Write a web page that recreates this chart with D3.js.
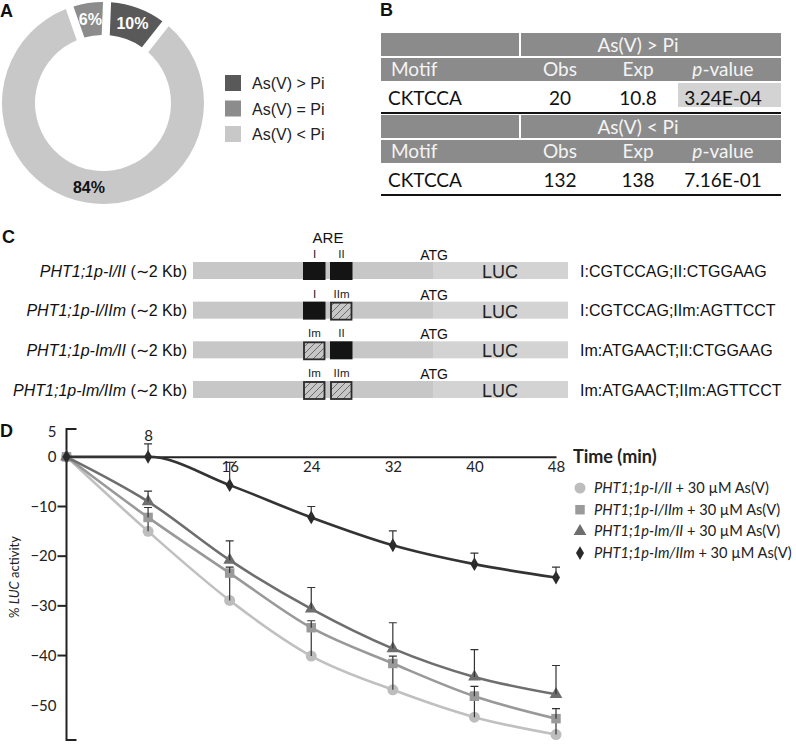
<!DOCTYPE html>
<html><head><meta charset="utf-8">
<script src="https://cdn.jsdelivr.net/npm/d3@7"></script>
<style>body{margin:0;background:#fff} svg{display:block}</style>
</head><body>
<svg id="c" width="796" height="744"></svg>
<script>
// ---------- data ----------
const pieLabels = ["As(V) > Pi", "As(V) = Pi", "As(V) < Pi"];
const pieValues = [10, 6, 84];
const pieColors = ["#595959", "#8c8c8c", "#c8c8c8"];
const pieOrder = [0, 2, 1]; // clockwise drawing order from the top

const tableGroups = ["As(V) > Pi", "As(V) < Pi"];
const tableHeader = ["Motif", "Obs", "Exp", "p-value"];
const tableMotifs = ["CKTCCA", "CKTCCA"];
const tableObs = ["20", "132"];
const tableExp = ["10.8", "138"];
const tablePvals = ["3.24E-04", "7.16E-01"];

const constructs = ["PHT1;1p-I/II", "PHT1;1p-I/IIm", "PHT1;1p-Im/II", "PHT1;1p-Im/IIm"];
const siteI = ["I", "I", "Im", "Im"];
const siteII = ["II", "IIm", "II", "IIm"];
const sequences = ["I:CGTCCAG;II:CTGGAAG", "I:CGTCCAG;IIm:AGTTCCT", "Im:ATGAACT;II:CTGGAAG", "Im:ATGAACT;IIm:AGTTCCT"];

const times = [0, 8, 16, 24, 32, 40, 48];
const seriesNames = ["PHT1;1p-I/II", "PHT1;1p-I/IIm", "PHT1;1p-Im/II", "PHT1;1p-Im/IIm"];
const circleVals = [0, -15.0, -28.9, -40.1, -46.9, -52.4, -55.9];
const circleErr = [0, 3, 5.5, 5, 5, 5, 3.5];
const squareVals = [0, -12.2, -23.4, -34.4, -41.6, -48.2, -52.7];
const squareErr = [0, 2, 1.2, 1.4, 1.5, 2, 2];
const triangleVals = [0, -9.0, -20.8, -30.6, -38.6, -44.3, -47.8];
const triangleErr = [0, 2.1, 3.9, 4.3, 5.2, 5.5, 5.8];
const diamondVals = [0, 0, -5.7, -12.2, -17.8, -21.6, -24.3];
const diamondErr = [0, 2.6, 4.6, 2.2, 2.9, 2.2, 2.1];
const yTicks = [5, 0, -10, -20, -30, -40, -50];
const xTicks = [8, 16, 24, 32, 40, 48];

const svg = d3.select("#c");
const ARIAL = "'Liberation Sans', Arial, sans-serif";
const CAL = "Lato, sans-serif";

// panel letters
[["A", 0, 17], ["B", 380, 16], ["C", 2, 243], ["D", 0, 437]].forEach(([t, x, y]) =>
  svg.append("text").attr("x", x).attr("y", y).text(t)
    .attr("font-family", ARIAL).attr("font-weight", "bold").attr("font-size", 18).attr("fill", "#111"));

// ---------- Panel A : donut ----------
{
  const g = svg.append("g").attr("transform", "translate(103,103)");
  const off = 2.3 * Math.PI / 180;
  const pie = d3.pie().sort(null).value(i => pieValues[i]).startAngle(off).endAngle(off + 2 * Math.PI);
  const arcs = pie(pieOrder);
  const arc = d3.arc().innerRadius(68).outerRadius(101).padAngle(0.08).padRadius(101);
  g.selectAll("path").data(arcs).join("path").attr("d", arc).attr("fill", d => pieColors[d.data]);
  const lab = d3.arc().innerRadius(85).outerRadius(85);
  g.selectAll("text.pl").data(arcs).join("text").attr("class", "pl")
    .attr("transform", d => `translate(${lab.centroid(d)})`)
    .attr("text-anchor", "middle").attr("dy", "0.36em")
    .attr("font-family", ARIAL).attr("font-weight", "bold").attr("font-size", 16)
    .attr("fill", d => d.data === 2 ? "#111" : "#fff")
    .text(d => pieValues[d.data] + "%");
  const lg = svg.append("g");
  pieLabels.forEach((l, i) => {
    lg.append("rect").attr("x", 225).attr("y", 75 + i * 25.5).attr("width", 16).attr("height", 16).attr("fill", pieColors[i]);
    lg.append("text").attr("x", 252).attr("y", 89 + i * 25.5).text(l)
      .attr("font-family", ARIAL).attr("font-size", 16).attr("fill", "#222");
  });
}

// ---------- Panel B : table ----------
{
  const g = svg.append("g");
  const x0 = 381, x1 = 781, xDiv = 519;
  const colX = [388, 560, 638, 723];
  const hdr = "#8b8b8b";
  const blocks = [33, 115];
  const fs = 19;
  blocks.forEach((top, b) => {
    g.append("rect").attr("x", x0).attr("y", top).attr("width", x1 - x0).attr("height", 23).attr("fill", hdr);
    g.append("rect").attr("x", xDiv).attr("y", top).attr("width", 2).attr("height", 23).attr("fill", "#fff");
    g.append("text").attr("x", colX[2]).attr("y", top + 19).attr("text-anchor", "middle")
      .text(tableGroups[b]).attr("font-family", CAL).attr("font-size", fs).attr("fill", "#f4f4f4");
    g.append("rect").attr("x", x0).attr("y", top + 25).attr("width", x1 - x0).attr("height", 23).attr("fill", hdr);
    tableHeader.forEach((h, j) => {
      const t = g.append("text").attr("x", j === 0 ? 391 : colX[j]).attr("y", top + 43)
        .attr("text-anchor", j === 0 ? "start" : "middle")
        .attr("font-family", CAL).attr("font-size", fs).attr("fill", "#f4f4f4");
      if (h === "p-value") {
        t.append("tspan").attr("font-style", "italic").text("p");
        t.append("tspan").text("-value");
      } else t.text(h);
    });
    const rowTop = top + 48;
    if (b === 0) g.append("rect").attr("x", 678).attr("y", rowTop + 2).attr("width", x1 - 678).attr("height", 24).attr("fill", "#d3d3d3");
    const vals = [tableMotifs[b], tableObs[b], tableExp[b], tablePvals[b]];
    vals.forEach((v, j) => g.append("text").attr("x", colX[j]).attr("y", rowTop + 24)
      .attr("text-anchor", j === 0 ? "start" : "middle").text(v)
      .attr("font-family", CAL).attr("font-size", fs).attr("fill", "#111"));
  });
  g.append("rect").attr("x", x0).attr("y", 112).attr("width", x1 - x0).attr("height", 2).attr("fill", "#111");
  g.append("rect").attr("x", x0).attr("y", 194).attr("width", x1 - x0).attr("height", 2).attr("fill", "#111");
}

// ---------- Panel C : constructs ----------
{
  const g = svg.append("g");
  const defs = svg.append("defs");
  const pat = defs.append("pattern").attr("id", "hatch").attr("patternUnits", "userSpaceOnUse")
    .attr("width", 7).attr("height", 7);
  pat.append("rect").attr("width", 7).attr("height", 7).attr("fill", "#c6c6c6");
  pat.append("path").attr("d", "M-1,1 l2,-2 M0,7 l7,-7 M6,8 l2,-2").attr("stroke", "#555").attr("stroke-width", 0.8);

  const row = d3.scalePoint().domain(constructs).range([270.5, 389.5]);
  const bx = d3.scaleLinear().domain([0, 1]).range([193, 568]);
  const bh = 17;
  g.append("text").attr("x", 328).attr("y", 243).attr("text-anchor", "middle").text("ARE")
    .attr("font-family", ARIAL).attr("font-size", 15).attr("fill", "#111");
  constructs.forEach((c, i) => {
    const cy = row(c);
    const top = cy - bh / 2;
    g.append("rect").attr("x", bx(0)).attr("y", top).attr("width", bx(0.64) - bx(0)).attr("height", bh).attr("fill", "#c7c7c7");
    g.append("rect").attr("x", bx(0.64)).attr("y", top).attr("width", bx(1) - bx(0.64)).attr("height", bh).attr("fill", "#d3d3d3");
    const boxes = [[siteI[i], 303], [siteII[i], 330]];
    boxes.forEach(([lab, x]) => {
      const mut = lab.endsWith("m");
      g.append("rect").attr("x", x + (mut ? 1 : 0)).attr("y", top + (mut ? 1 : 0))
        .attr("width", mut ? 20.5 : 22.5).attr("height", mut ? bh : bh + 1)
        .attr("fill", mut ? "url(#hatch)" : "#141414")
        .attr("stroke", mut ? "#2a2a2a" : "none").attr("stroke-width", mut ? 1.8 : 0);
      g.append("text").attr("x", x + 11.5).attr("y", top - 4).attr("text-anchor", "middle").text(lab)
        .attr("font-family", ARIAL).attr("font-size", 11.5).attr("fill", "#222");
    });
    g.append("text").attr("x", 434).attr("y", top - 2).attr("text-anchor", "middle").text("ATG")
      .attr("font-family", ARIAL).attr("font-size", 14).attr("fill", "#111");
    g.append("text").attr("x", 500).attr("y", top + 16).attr("text-anchor", "middle").text("LUC")
      .attr("font-family", ARIAL).attr("font-size", 18).attr("fill", "#222");
    const t = g.append("text").attr("x", 187).attr("y", cy + 6).attr("text-anchor", "end")
      .attr("font-family", ARIAL).attr("font-size", 16).attr("fill", "#111");
    t.append("tspan").attr("font-style", "italic").text(c);
    t.append("tspan").text(" (\u223C2 Kb)");
    g.append("text").attr("x", 580).attr("y", cy + 6).text(sequences[i])
      .attr("font-family", ARIAL).attr("font-size", 16).attr("fill", "#111");
  });
}

// ---------- Panel D : time course ----------
{
  const g = svg.append("g");
  const x = d3.scaleLinear().domain([0, 48]).range([66.5, 556]);
  const y = d3.scaleLinear().domain([-57, 5.6]).range([740, 429]);
  const FD = CAL;

  const ya = g.append("g").attr("transform", `translate(${x(0)},0)`)
    .call(d3.axisLeft(y).tickValues(yTicks).tickSize(0).tickPadding(10).tickFormat(d3.format("d")));
  ya.select(".domain").remove();
  ya.selectAll("text").attr("font-family", FD).attr("font-size", 15).attr("fill", "#222");
  g.append("path").attr("d", `M${x(0) + 10},${y(5.6)}H${x(0)}V${y(-57)}H${x(0) + 10}`)
    .attr("fill", "none").attr("stroke", "#222").attr("stroke-width", 2);
  [-10, -20, -30, -40].forEach(v => g.append("line").attr("x1", x(0) - 9).attr("x2", x(0))
    .attr("y1", y(v)).attr("y2", y(v)).attr("stroke", "#222").attr("stroke-width", 2));

  const xa = g.append("g").attr("transform", `translate(0,${y(0)})`)
    .call(d3.axisBottom(x).tickValues(xTicks).tickSize(0).tickPadding(5));
  xa.select(".domain").attr("stroke", "#222").attr("stroke-width", 2);
  xa.selectAll("text").attr("font-family", FD).attr("font-size", 15).attr("fill", "#222")
    .attr("dy", "0.71em");
  xa.selectAll(".tick").filter(d => d === 8).select("text").attr("y", -16).attr("dy", 0);

  g.append("text").attr("transform", `translate(19,577) rotate(-90)`).attr("text-anchor", "middle")
    .attr("font-family", FD).attr("font-size", 13).attr("fill", "#222")
    .call(t => { t.append("tspan").text("% "); t.append("tspan").attr("font-style", "italic").text("LUC"); t.append("tspan").text(" activity"); });

  const series = [
    { vals: circleVals, err: circleErr, sym: d3.symbolCircle, size: 95, line: "#c0c0c0", mk: "#bdbdbd" },
    { vals: squareVals, err: squareErr, sym: d3.symbolSquare, size: 90, line: "#999", mk: "#9a9a9a" },
    { vals: triangleVals, err: triangleErr, sym: d3.symbolTriangle, size: 70, line: "#6e6e6e", mk: "#6e6e6e" },
    { vals: diamondVals, err: diamondErr, sym: d3.symbolDiamond, size: 55, line: "#333", mk: "#2a2a2a" }
  ];
  const lineGen = d3.line().x(d => x(d[0])).y(d => y(d[1])).curve(d3.curveMonotoneX);
  series.forEach(s => {
    const pts = times.map((t, i) => [t, s.vals[i], s.err[i]]);
    g.append("path").attr("d", lineGen(pts)).attr("fill", "none").attr("stroke", s.line).attr("stroke-width", 2.6);
    g.selectAll(null).data(pts).join("path")
      .attr("transform", d => `translate(${x(d[0])},${y(d[1])})`)
      .attr("d", d3.symbol().type(s.sym).size(s.size)).attr("fill", s.mk);
    g.selectAll(null).data(pts.filter(d => d[2] > 0)).join("path")
      .attr("d", d => `M${x(d[0])},${y(d[1])}V${y(d[1] + d[2])}M${x(d[0]) - 4},${y(d[1] + d[2])}h8`)
      .attr("fill", "none").attr("stroke", "#333").attr("stroke-width", 1.2);
  });

  g.append("text").attr("x", 573).attr("y", 463).text("Time (min)")
    .attr("font-family", FD).attr("font-weight", "bold").attr("font-size", 18).attr("fill", "#222");
  series.forEach((s, i) => {
    const ly = 488 + i * 21.7;
    g.append("path").attr("transform", `translate(580,${ly})`)
      .attr("d", d3.symbol().type(s.sym).size(s.size)).attr("fill", s.mk);
    const t = g.append("text").attr("x", 594).attr("y", ly + 5)
      .attr("font-family", FD).attr("font-size", 14.6).attr("fill", "#222");
    t.append("tspan").attr("font-style", "italic").text(seriesNames[i]);
    t.append("tspan").text(" + 30 \u00B5M As(V)");
  });
}
</script>
</body></html>
